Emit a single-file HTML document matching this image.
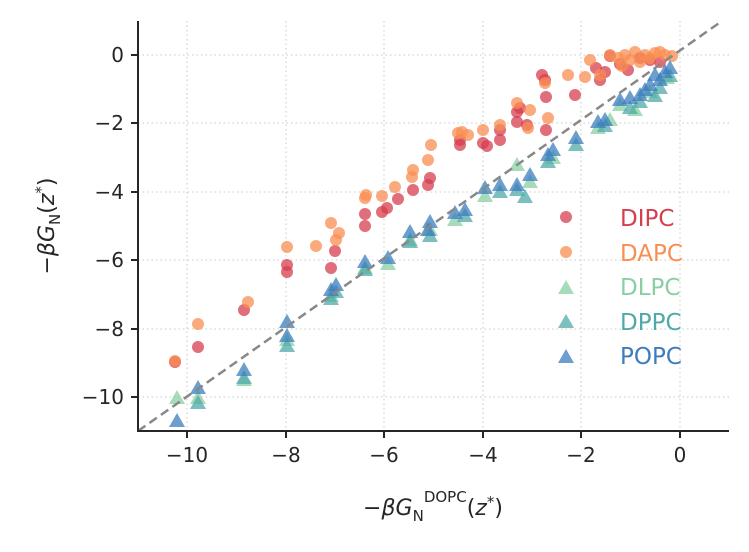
<!DOCTYPE html>
<html><head><meta charset="utf-8"><style>
body{margin:0;background:#fff}
text{font-family:"DejaVu Sans","Liberation Sans",sans-serif;fill:#262626}
</style></head><body>
<svg width="749" height="547" viewBox="0 0 749 547" xmlns="http://www.w3.org/2000/svg">
<g stroke="#c8c8c8" stroke-width="1" stroke-dasharray="1.5,3">
<line x1="187" y1="21" x2="187" y2="431"/><line x1="286" y1="21" x2="286" y2="431"/><line x1="384" y1="21" x2="384" y2="431"/><line x1="483" y1="21" x2="483" y2="431"/><line x1="581" y1="21" x2="581" y2="431"/><line x1="680" y1="21" x2="680" y2="431"/>
<line x1="138" y1="55" x2="729" y2="55"/><line x1="138" y1="123" x2="729" y2="123"/><line x1="138" y1="192" x2="729" y2="192"/><line x1="138" y1="260" x2="729" y2="260"/><line x1="138" y1="329" x2="729" y2="329"/><line x1="138" y1="397" x2="729" y2="397"/>
</g>
<defs><path id="t" d="M0,-8 L8,6 L-8,6Z"/></defs>
<g fill-opacity="0.75">
<g fill="#d53e4f">
<circle cx="175" cy="362" r="6"/><circle cx="198" cy="347" r="6"/><circle cx="244" cy="310" r="6"/><circle cx="287" cy="265" r="6"/><circle cx="287" cy="272" r="6"/><circle cx="331" cy="268" r="6"/><circle cx="335" cy="251" r="6"/><circle cx="365" cy="226" r="6"/><circle cx="365" cy="214" r="6"/><circle cx="382" cy="212" r="6"/><circle cx="387" cy="208" r="6"/><circle cx="398" cy="199" r="6"/><circle cx="413" cy="190" r="6"/><circle cx="428" cy="185" r="6"/><circle cx="430" cy="178" r="6"/><circle cx="460" cy="145" r="6"/><circle cx="460" cy="140" r="6"/><circle cx="483" cy="143" r="6"/><circle cx="487" cy="146" r="6"/><circle cx="500" cy="130" r="6"/><circle cx="500" cy="140" r="6"/><circle cx="517" cy="112" r="6"/><circle cx="517" cy="122" r="6"/><circle cx="527" cy="125" r="6"/><circle cx="545" cy="80" r="6"/><circle cx="546" cy="97" r="6"/><circle cx="546" cy="130" r="6"/><circle cx="575" cy="95" r="6"/><circle cx="596" cy="68" r="6"/><circle cx="600" cy="80" r="6"/><circle cx="610" cy="56" r="6"/><circle cx="620" cy="64" r="6"/><circle cx="640" cy="58" r="6"/><circle cx="650" cy="60" r="6"/><circle cx="660" cy="62" r="6"/><circle cx="542" cy="75" r="6"/><circle cx="520" cy="108" r="6"/><circle cx="628" cy="70" r="6"/><circle cx="605" cy="72" r="6"/>
</g>
<g fill="#f98e52">
<circle cx="175" cy="361" r="6"/><circle cx="198" cy="324" r="6"/><circle cx="248" cy="302" r="6"/><circle cx="287" cy="247" r="6"/><circle cx="316" cy="246" r="6"/><circle cx="331" cy="223" r="6"/><circle cx="336" cy="240" r="6"/><circle cx="339" cy="233" r="6"/><circle cx="365" cy="198" r="6"/><circle cx="366" cy="195" r="6"/><circle cx="382" cy="196" r="6"/><circle cx="395" cy="187" r="6"/><circle cx="412" cy="177" r="6"/><circle cx="413" cy="170" r="6"/><circle cx="428" cy="160" r="6"/><circle cx="431" cy="145" r="6"/><circle cx="458" cy="133" r="6"/><circle cx="462" cy="132" r="6"/><circle cx="468" cy="135" r="6"/><circle cx="483" cy="130" r="6"/><circle cx="500" cy="125" r="6"/><circle cx="517" cy="103" r="6"/><circle cx="530" cy="110" r="6"/><circle cx="528" cy="128" r="6"/><circle cx="545" cy="83" r="6"/><circle cx="568" cy="75" r="6"/><circle cx="590" cy="60" r="6"/><circle cx="600" cy="75" r="6"/><circle cx="610" cy="55" r="6"/><circle cx="625" cy="55" r="6"/><circle cx="635" cy="52" r="6"/><circle cx="645" cy="55" r="6"/><circle cx="655" cy="53" r="6"/><circle cx="665" cy="55" r="6"/><circle cx="672" cy="56" r="6"/><circle cx="630" cy="60" r="6"/><circle cx="650" cy="58" r="6"/><circle cx="618" cy="58" r="6"/><circle cx="640" cy="62" r="6"/><circle cx="660" cy="52" r="6"/><circle cx="622" cy="66" r="6"/><circle cx="548" cy="118" r="6"/><circle cx="585" cy="77" r="6"/>
</g>
<g fill="#88d0a4">
<use href="#t" x="177" y="398"/><use href="#t" x="198" y="398"/><use href="#t" x="244" y="380"/><use href="#t" x="287" y="340"/><use href="#t" x="331" y="296"/><use href="#t" x="365" y="268"/><use href="#t" x="388" y="264"/><use href="#t" x="410" y="240"/><use href="#t" x="430" y="230"/><use href="#t" x="455" y="220"/><use href="#t" x="485" y="196"/><use href="#t" x="517" y="165"/><use href="#t" x="530" y="182"/><use href="#t" x="553" y="158"/><use href="#t" x="598" y="128"/><use href="#t" x="620" y="105"/><use href="#t" x="650" y="92"/><use href="#t" x="667" y="78"/><use href="#t" x="635" y="110"/><use href="#t" x="610" y="120"/>
</g>
<g fill="#4fa9a8">
<use href="#t" x="198" y="403"/><use href="#t" x="244" y="378"/><use href="#t" x="287" y="346"/><use href="#t" x="331" y="299"/><use href="#t" x="336" y="292"/><use href="#t" x="365" y="270"/><use href="#t" x="410" y="242"/><use href="#t" x="430" y="236"/><use href="#t" x="465" y="216"/><use href="#t" x="500" y="192"/><use href="#t" x="517" y="190"/><use href="#t" x="525" y="197"/><use href="#t" x="548" y="162"/><use href="#t" x="576" y="145"/><use href="#t" x="605" y="126"/><use href="#t" x="640" y="102"/><use href="#t" x="660" y="88"/><use href="#t" x="670" y="76"/><use href="#t" x="630" y="108"/><use href="#t" x="655" y="96"/>
</g>
<g fill="#3b7dbd">
<use href="#t" x="177" y="421"/><use href="#t" x="198" y="388"/><use href="#t" x="244" y="370"/><use href="#t" x="287" y="336"/><use href="#t" x="287" y="322"/><use href="#t" x="331" y="290"/><use href="#t" x="336" y="285"/><use href="#t" x="365" y="262"/><use href="#t" x="388" y="258"/><use href="#t" x="410" y="232"/><use href="#t" x="428" y="230"/><use href="#t" x="430" y="222"/><use href="#t" x="455" y="213"/><use href="#t" x="465" y="210"/><use href="#t" x="485" y="188"/><use href="#t" x="500" y="185"/><use href="#t" x="517" y="185"/><use href="#t" x="530" y="175"/><use href="#t" x="548" y="155"/><use href="#t" x="553" y="150"/><use href="#t" x="576" y="138"/><use href="#t" x="598" y="122"/><use href="#t" x="605" y="120"/><use href="#t" x="620" y="100"/><use href="#t" x="640" y="95"/><use href="#t" x="650" y="85"/><use href="#t" x="660" y="80"/><use href="#t" x="665" y="72"/><use href="#t" x="670" y="68"/><use href="#t" x="655" y="75"/><use href="#t" x="645" y="90"/><use href="#t" x="630" y="98"/>
</g>
</g>
<line x1="138" y1="431" x2="722" y2="21" stroke="#888" stroke-width="2.5" stroke-dasharray="9,5"/>
<g stroke="#262626" stroke-width="2" fill="none">
<path d="M138,21 V431 H729"/>
<path d="M187,431v7M286,431v7M384,431v7M483,431v7M581,431v7M680,431v7"/>
<path d="M138,55h-7M138,123h-7M138,192h-7M138,260h-7M138,329h-7M138,397h-7"/>
</g>
<g font-size="20" text-anchor="middle">
<text x="187" y="462">−10</text><text x="286" y="462">−8</text><text x="384" y="462">−6</text><text x="483" y="462">−4</text><text x="581" y="462">−2</text><text x="680" y="462">0</text>
</g>
<g font-size="20" text-anchor="end">
<text x="124" y="62">0</text><text x="124" y="130">−2</text><text x="124" y="199">−4</text><text x="124" y="267">−6</text><text x="124" y="336">−8</text><text x="124" y="404">−10</text>
</g>
<text x="433" y="515" font-size="22" text-anchor="middle">−<tspan font-style="italic">βG</tspan><tspan font-size="15" dy="6">N</tspan><tspan font-size="15" dy="-19">DOPC</tspan><tspan dy="13">(</tspan><tspan font-style="italic">z</tspan><tspan font-size="15" dy="-8">*</tspan><tspan dy="8">)</tspan></text>
<text transform="translate(54,226) rotate(-90)" font-size="22" text-anchor="middle">−<tspan font-style="italic">βG</tspan><tspan font-size="15" dy="6">N</tspan><tspan dy="-6">(</tspan><tspan font-style="italic">z</tspan><tspan font-size="15" dy="-8">*</tspan><tspan dy="8">)</tspan></text>
<g fill-opacity="0.75">
<circle cx="566" cy="217" r="6" fill="#d53e4f"/><circle cx="566" cy="252" r="6" fill="#f98e52"/>
<use href="#t" x="566" y="288" fill="#88d0a4"/><use href="#t" x="566" y="322" fill="#4fa9a8"/><use href="#t" x="566" y="357" fill="#3b7dbd"/>
</g>
<g font-size="23">
<text x="620" y="226" style="fill:#d53e4f">DIPC</text><text x="620" y="261" style="fill:#f98e52">DAPC</text><text x="620" y="295" style="fill:#88d0a4">DLPC</text><text x="620" y="330" style="fill:#4fa9a8">DPPC</text><text x="620" y="364" style="fill:#3b7dbd">POPC</text>
</g>
</svg>
</body></html>
